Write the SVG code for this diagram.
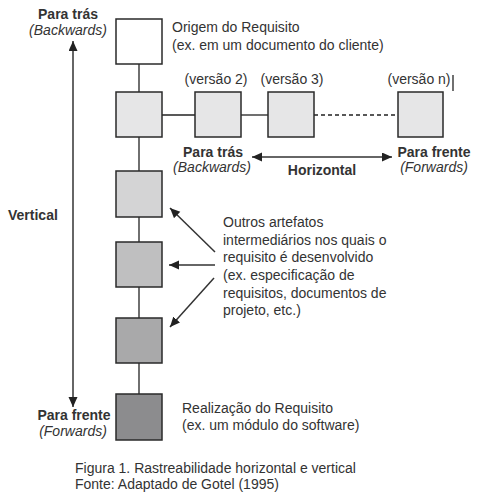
<svg xmlns="http://www.w3.org/2000/svg" width="493" height="493" viewBox="0 0 493 493">
<style>
.box{stroke:#2a2a2a;stroke-width:1.5}
.t{font-family:"Liberation Sans",Arial,sans-serif;font-size:14px;fill:#333}
.b{font-family:"Liberation Sans",Arial,sans-serif;font-size:14px;font-weight:bold;fill:#333}
.i{font-family:"Liberation Sans",Arial,sans-serif;font-size:14px;font-style:italic;fill:#333}
.c{stroke:#222;stroke-width:1.3;fill:none}
.a{stroke:#333;stroke-width:1.5;fill:none}
</style>
<defs>
<marker id="ah" markerUnits="userSpaceOnUse" markerWidth="11" markerHeight="10" refX="10" refY="4.5" orient="auto">
<path d="M0,0 L10,4.5 L0,9 z" fill="#222"/>
</marker>
</defs>
<rect width="493" height="493" fill="#fff"/>
<g id="connectors">
<line class="c" x1="139" y1="64" x2="139" y2="92"/>
<line class="c" x1="139" y1="137" x2="139" y2="171"/>
<line class="c" x1="139" y1="217" x2="139" y2="242"/>
<line class="c" x1="139" y1="287" x2="139" y2="318"/>
<line class="c" x1="139" y1="363" x2="139" y2="394"/>
<line class="c" x1="162" y1="115" x2="195" y2="115"/>
<line class="c" x1="241" y1="115" x2="268" y2="115"/>
<line class="c" x1="314" y1="115" x2="398" y2="115" stroke-dasharray="4 3"/>
<line class="a" x1="73" y1="225" x2="73" y2="41" marker-end="url(#ah)"/>
<line class="a" x1="73" y1="225" x2="73" y2="407" marker-end="url(#ah)"/>
<line class="a" x1="322" y1="157" x2="252" y2="157" marker-end="url(#ah)"/>
<line class="a" x1="322" y1="157" x2="392" y2="157" marker-end="url(#ah)"/>
<line class="a" x1="215" y1="252" x2="170" y2="208" marker-end="url(#ah)"/>
<line class="a" x1="215" y1="265" x2="169" y2="265" marker-end="url(#ah)"/>
<line class="a" x1="214" y1="278" x2="170" y2="327" marker-end="url(#ah)"/>
</g>
<g id="origem">
<rect class="box" x="116" y="19" width="46" height="45" fill="#ffffff"/>
<text class="t" x="172" y="32">Origem do Requisito</text>
<text class="t" x="172" y="50">(ex. em um documento do cliente)</text>
</g>
<g id="versao1">
<rect class="box" x="116" y="92" width="46" height="45" fill="#e6e6e7"/>
</g>
<g id="versao2">
<rect class="box" x="195" y="92" width="46" height="45" fill="#e6e6e7"/>
<text class="t" x="216" y="84" text-anchor="middle">(versão 2)</text>
</g>
<g id="versao3">
<rect class="box" x="268" y="92" width="46" height="45" fill="#e6e6e7"/>
<text class="t" x="292" y="84" text-anchor="middle">(versão 3)</text>
</g>
<g id="versaon">
<rect class="box" x="398" y="92" width="45" height="45" fill="#e6e6e7"/>
<text class="t" x="419" y="84" text-anchor="middle">(versão n)</text>
<line x1="453" y1="75" x2="453" y2="91" stroke="#111" stroke-width="1.2"/>
</g>
<g id="artefato1">
<rect class="box" x="116" y="171" width="46" height="46" fill="#d4d4d5"/>
</g>
<g id="artefato2">
<rect class="box" x="116" y="242" width="46" height="45" fill="#bfbfc0"/>
</g>
<g id="artefato3">
<rect class="box" x="116" y="318" width="46" height="45" fill="#a9a9aa"/>
</g>
<g id="realizacao">
<rect class="box" x="116" y="394" width="46" height="46" fill="#8c8c8e"/>
<text class="t" x="182" y="413">Realização do Requisito</text>
<text class="t" x="182" y="430">(ex. um módulo do software)</text>
</g>
<g id="labels">
<text class="b" x="68" y="19" text-anchor="middle">Para trás</text>
<text class="i" x="68" y="35" text-anchor="middle">(Backwards)</text>
<text class="b" x="8" y="220">Vertical</text>
<text class="b" x="74" y="420" text-anchor="middle">Para frente</text>
<text class="i" x="73" y="436" text-anchor="middle">(Forwards)</text>
<text class="b" x="213" y="157" text-anchor="middle">Para trás</text>
<text class="i" x="212" y="172" text-anchor="middle">(Backwards)</text>
<text class="b" x="322" y="175" text-anchor="middle">Horizontal</text>
<text class="b" x="434" y="157" text-anchor="middle">Para frente</text>
<text class="i" x="434" y="172" text-anchor="middle">(Forwards)</text>
</g>
<g id="outros">
<text class="t" x="223" y="227">Outros artefatos</text>
<text class="t" x="223" y="245">intermediários nos quais o</text>
<text class="t" x="223" y="262">requisito é desenvolvido</text>
<text class="t" x="223" y="280">(ex. especificação de</text>
<text class="t" x="223" y="298">requisitos, documentos de</text>
<text class="t" x="223" y="315">projeto, etc.)</text>
</g>
<g id="caption">
<text class="t" x="75" y="473">Figura 1. Rastreabilidade horizontal e vertical</text>
<text class="t" x="75" y="489">Fonte: Adaptado de Gotel (1995)</text>
</g>
</svg>
